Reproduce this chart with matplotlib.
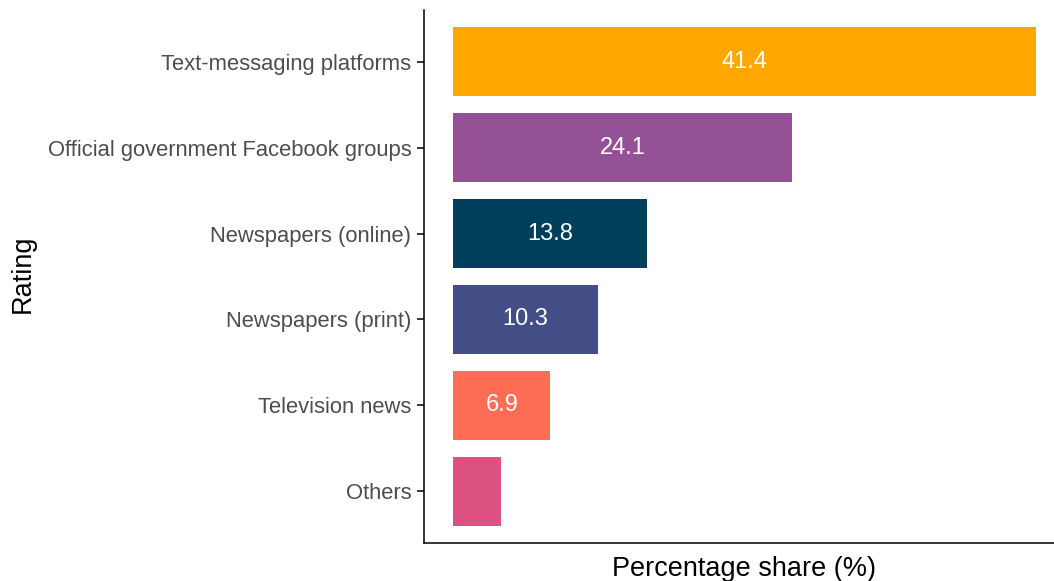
import matplotlib.pyplot as plt

plt.rcParams['font.family'] = ['Liberation Sans', 'DejaVu Sans']

# Share of respondents by information channel
channels = ['Text-messaging platforms', 'Official government Facebook groups',
            'Newspapers (online)', 'Newspapers (print)', 'Television news', 'Others']
shares = [41.4, 24.1, 13.8, 10.3, 6.9, 3.4]
labels = ['41.4', '24.1', '13.8', '10.3', '6.9', '']
colors = ['#FFA600', '#955196', '#003F5C', '#444E86', '#FF6E54', '#DD5182']

W, H = 1054, 581
fig = plt.figure(figsize=(W / 100, H / 100), dpi=100)
# axes run off the right edge, like the original ggplot export
ax = fig.add_axes([424 / W, 1 - 543 / H, 641 / W, 533 / H])

ypos = list(range(len(channels)))
ax.barh(ypos, shares, height=0.8, color=colors)
for y, v, lab in zip(ypos, shares, labels):
    if lab:
        ax.text(v / 2, y, lab, ha='center', va='center', color='white', fontsize=17)

xmax = max(shares)
ax.set_xlim(-0.05 * xmax, 1.05 * xmax)
ax.set_ylim(len(channels) - 0.4, -0.6)
ax.set_yticks(ypos)
ax.set_yticklabels(channels, fontsize=15.8, color='#4D4D4D')
ax.set_xticks([])
ax.tick_params(axis='y', length=5, width=1.1, pad=4)

for side in ['top', 'right']:
    ax.spines[side].set_visible(False)
for side in ['left', 'bottom']:
    ax.spines[side].set_linewidth(1.1)

ax.set_xlabel('Percentage share (%)', fontsize=19.5, labelpad=9)
fig.text(23 / W, 1 - 274 / H, 'Rating', rotation=90, ha='center', va='center', fontsize=19.5)

fig.savefig('out.png', dpi=100)
